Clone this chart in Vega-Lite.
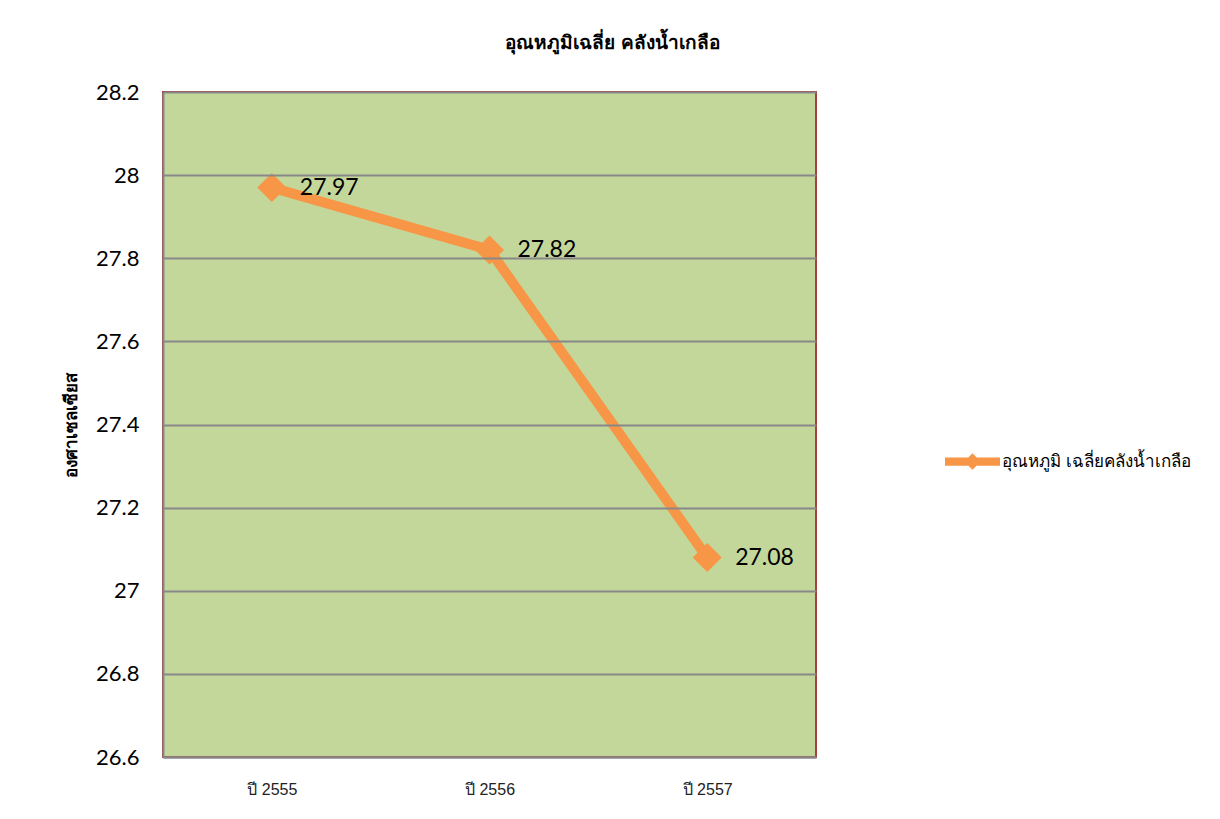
{
  "$schema": "https://vega.github.io/schema/vega-lite/v6.json",
  "width": 653,
  "height": 665,
  "autosize": {"type": "none"},
  "padding": {"left": 163, "top": 92, "right": 404, "bottom": 62},
  "background": "white",
  "title": {
    "text": "อุณหภูมิเฉลี่ย คลังน้ำเกลือ",
    "fontSize": 19,
    "fontWeight": "bold",
    "font": "Liberation Sans",
    "color": "black",
    "anchor": "middle",
    "dx": 123,
    "offset": 28
  },
  "data": {
    "values": [
      {"year": "ปี 2555", "temp": 27.97, "series": "อุณหภูมิ เฉลี่ยคลังน้ำเกลือ"},
      {"year": "ปี 2556", "temp": 27.82, "series": "อุณหภูมิ เฉลี่ยคลังน้ำเกลือ"},
      {"year": "ปี 2557", "temp": 27.08, "series": "อุณหภูมิ เฉลี่ยคลังน้ำเกลือ"}
    ]
  },
  "config": {
    "view": {"fill": "#C4D79B", "stroke": "#A5403F", "strokeWidth": 2}
  },
  "encoding": {
    "x": {
      "field": "year",
      "type": "nominal",
      "sort": null,
      "scale": {"type": "point", "padding": 0.5},
      "axis": {
        "title": null,
        "labelAngle": 0,
        "ticks": false,
        "domainColor": "#888888",
        "domainWidth": 2,
        "labelFont": "Liberation Sans",
        "labelFontSize": 16,
        "labelColor": "#222222",
        "labelPadding": 24,
        "grid": false,
        "zindex": 1
      }
    },
    "y": {
      "field": "temp",
      "type": "quantitative",
      "scale": {"domain": [26.6, 28.2], "nice": false, "zero": false},
      "axis": {
        "title": "องศาเซลเซียส",
        "titleFont": "Liberation Sans",
        "titleFontSize": 17,
        "titleFontWeight": "bold",
        "titleColor": "black",
        "titlePadding": 15,
        "values": [26.6, 26.8, 27, 27.2, 27.4, 27.6, 27.8, 28, 28.2],
        "format": ".1~f",
        "ticks": false,
        "domainColor": "#888888",
        "domainWidth": 2,
        "grid": true,
        "gridColor": "#888888",
        "gridWidth": 2,
        "labelFont": "Lato",
        "labelFontSize": 22,
        "labelColor": "black",
        "labelPadding": 24,
        "zindex": 1
      }
    },
    "color": {
      "field": "series",
      "type": "nominal",
      "scale": {"range": ["#F79646"]},
      "legend": {
        "title": null,
        "orient": "none",
        "legendX": 782,
        "legendY": 342,
        "labelFont": "Liberation Sans",
        "labelFontSize": 17,
        "labelColor": "black",
        "labelLimit": 0,
        "symbolType": "M-1,-0.15L1,-0.15L1,0.15L-1,0.15Z M0,-0.3L0.3,0L0,0.3L-0.3,0Z",
        "symbolSize": 3025,
        "symbolStrokeWidth": 0,
        "symbolFillColor": "#F79646",
        "symbolOpacity": 1,
        "labelOffset": 2
      }
    }
  },
  "layer": [
    {"mark": {"type": "line", "strokeWidth": 10}},
    {"mark": {"type": "point", "shape": "diamond", "size": 841, "filled": true, "opacity": 1}},
    {
      "mark": {"type": "text", "align": "left", "baseline": "middle", "dx": 28, "fontSize": 23, "font": "Lato", "color": "black"},
      "encoding": {"text": {"field": "temp", "type": "quantitative", "format": ".2f"}, "color": {"value": "black"}}
    }
  ]
}
